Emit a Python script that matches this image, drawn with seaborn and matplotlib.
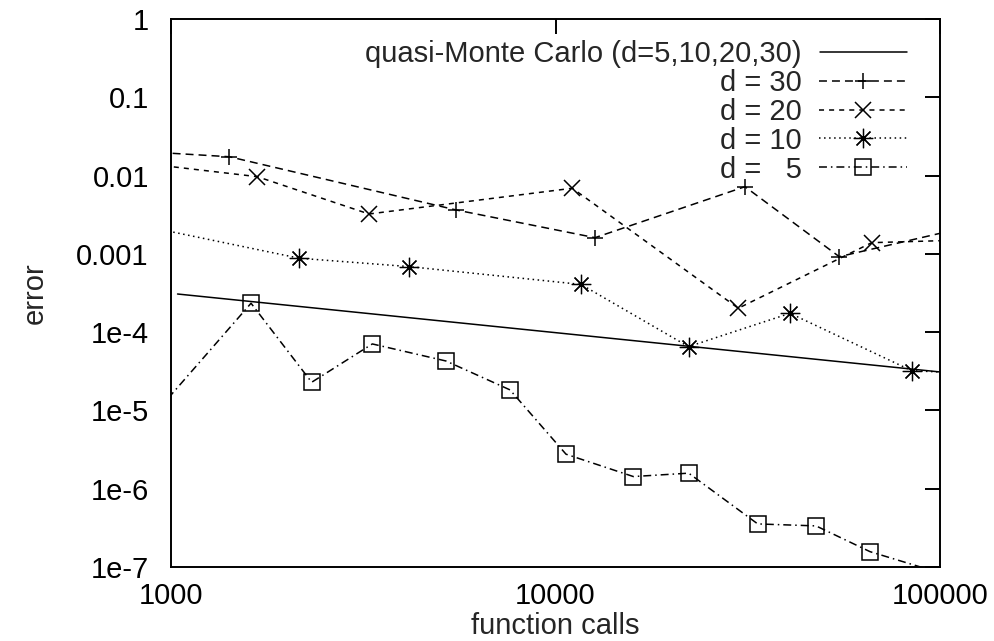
import numpy as np
import pandas as pd
import matplotlib
matplotlib.use("Agg")
import matplotlib.pyplot as plt
import seaborn as sns
from matplotlib.ticker import FixedLocator, FixedFormatter, NullLocator

# ---------------- data ----------------
qmc_x = [1040, 100000]
qmc_y = [3.07e-4, 3.1e-5]

d30_x = [800, 1418, 5510, 12670, 31100, 54700, 120000]
d30_y = [0.0206, 0.0174, 0.00364, 0.00161, 0.00721, 9.21e-4, 0.00225]

d20_x = [800, 1677, 3273, 11060, 29880, 66440, 120000]
d20_y = [0.0148, 0.00968, 0.00323, 0.00689, 2.02e-4, 0.00139, 0.00151]

d10_x = [800, 2157, 4167, 11650, 22180, 40730, 84420, 120000]
d10_y = [0.00241, 8.79e-4, 6.87e-4, 4.07e-4, 6.53e-5, 1.74e-4, 3.22e-5, 2.97e-5]

d5_x = [800, 1615, 2322, 3339, 5190, 7615, 10650, 15940, 22200, 33570, 47590, 65770, 120000]
d5_y = [4.48e-6, 2.34e-4, 2.29e-5, 7.07e-5, 4.28e-5, 1.83e-5, 2.76e-6, 1.43e-6,
        1.58e-6, 3.55e-7, 3.35e-7, 1.57e-7, 6.4e-8]

labels = ["quasi-Monte Carlo (d=5,10,20,30)", "d = 30", "d = 20", "d = 10", "d =   5"]

x_ticks = [1000, 10000, 100000]
x_ticklabels = ["1000", "10000", "100000"]
y_ticks = [1, 0.1, 0.01, 0.001, 1e-4, 1e-5, 1e-6, 1e-7]
y_ticklabels = ["1", "0.1", "0.01", "0.001", "1e-4", "1e-5", "1e-6", "1e-7"]

# ---------------- style ----------------
sns.set_style("white")
plt.rcParams["font.family"] = ["Liberation Sans", "DejaVu Sans"]
FS = 21

fig = plt.figure(figsize=(9.95, 6.41), dpi=100)
ax = fig.add_axes([171 / 995, 1 - 567 / 641, (940 - 171) / 995, (567 - 19) / 641])

LW = 1.1

series = [
    (qmc_x, qmc_y, None, None, 0, 1.1),
    (d30_x, d30_y, "+", (5.2, 3.3), 12, 1.1),
    (d20_x, d20_y, "x", (3.3, 3.3), 12, 1.1),
    (d10_x, d10_y, (8, 2, 0), (1.0, 2.3), 14, 0.9),
    (d5_x, d5_y, "s", (5.2, 2.6, 1.0, 2.6), 12, 1.1),
]

handles = []
for (xs, ys, mk, dash, ms, mew), lab in zip(series, labels):
    df = pd.DataFrame({"x": xs, "y": ys})
    kw = dict(color="black", linewidth=LW)
    if mk is not None:
        kw.update(marker=mk, markersize=ms, markeredgewidth=mew,
                  markerfacecolor="none", markeredgecolor="black")
    sns.lineplot(data=df, x="x", y="y", ax=ax, sort=False, estimator=None,
                 label=lab, **kw)
    line = ax.lines[-1]
    if dash is not None:
        line.set_dashes(dash)
    handles.append(line)

ax.set_xscale("log")
ax.set_yscale("log")
ax.set_xlim(1000, 100000)
ax.set_ylim(1e-7, 1)

ax.xaxis.set_major_locator(FixedLocator(x_ticks))
ax.xaxis.set_major_formatter(FixedFormatter(x_ticklabels))
ax.yaxis.set_major_locator(FixedLocator(y_ticks))
ax.yaxis.set_major_formatter(FixedFormatter(y_ticklabels))
ax.xaxis.set_minor_locator(NullLocator())
ax.yaxis.set_minor_locator(NullLocator())

ax.tick_params(axis="both", which="major", direction="in", top=True, right=True,
               length=11, width=1.4, labelsize=FS, colors="black")
ax.tick_params(axis="y", pad=16)
ax.tick_params(axis="x", pad=11)

for sp in ax.spines.values():
    sp.set_visible(True)
    sp.set_linewidth(1.4)
    sp.set_color("black")

ax.set_xlabel("function calls", fontsize=FS, va="center")
ax.xaxis.set_label_coords(0.5, (567 - 626) / 548)
ax.set_ylabel("error", fontsize=FS, va="center")
ax.yaxis.set_label_coords((35 - 171) / 769, 0.5)

leg = ax.legend(handles=handles, labels=labels, loc="upper right",
                bbox_to_anchor=((907 - 171) / 769, (567 - 40) / 548),
                frameon=False, markerfirst=False, fontsize=FS,
                handlelength=3.0, handletextpad=0.62, labelspacing=0.03,
                borderpad=0, borderaxespad=0)

fig.savefig("out.png", dpi=100, facecolor="white")
